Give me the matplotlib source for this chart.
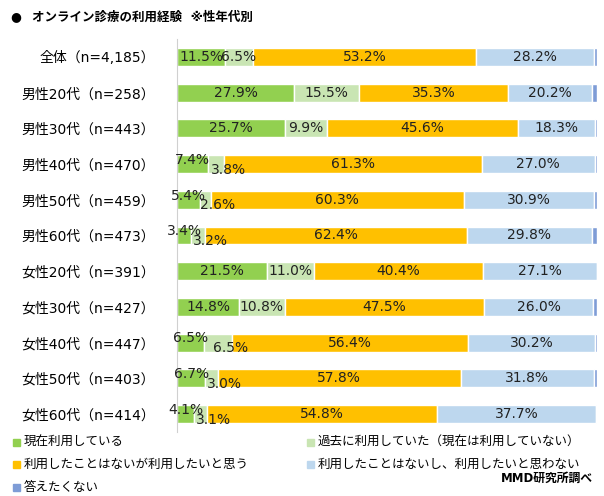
import matplotlib
matplotlib.use("Agg")
import matplotlib.pyplot as plt
import numpy as np

plt.rcParams['font.family'] = ['DejaVu Sans', 'Noto Sans CJK JP']

categories = ["全体（n=4,185）", "男性20代（n=258）", "男性30代（n=443）", "男性40代（n=470）",
              "男性50代（n=459）", "男性60代（n=473）", "女性20代（n=391）", "女性30代（n=427）",
              "女性40代（n=447）", "女性50代（n=403）", "女性60代（n=414）"]
series_names = ["現在利用している", "過去に利用していた（現在は利用していない）",
                "利用したことはないが利用したいと思う", "利用したことはないし、利用したいと思わない",
                "答えたくない"]
current = [11.5, 27.9, 25.7, 7.4, 5.4, 3.4, 21.5, 14.8, 6.5, 6.7, 4.1]
past = [6.5, 15.5, 9.9, 3.8, 2.6, 3.2, 11.0, 10.8, 6.5, 3.0, 3.1]
want = [53.2, 35.3, 45.6, 61.3, 60.3, 62.4, 40.4, 47.5, 56.4, 57.8, 54.8]
not_want = [28.2, 20.2, 18.3, 27.0, 30.9, 29.8, 27.1, 26.0, 30.2, 31.8, 37.7]
no_answer = [0.6, 1.1, 0.5, 0.5, 0.8, 1.2, 0.0, 0.9, 0.4, 0.7, 0.3]

colors = ["#92D050", "#C9E5B3", "#FFC000", "#BDD7EE", "#7E9CD6"]
data = [current, past, want, not_want, no_answer]

fig = plt.figure(figsize=(6.04, 4.96), dpi=100)
ax = fig.add_axes([177/604, 1 - 431.85/496, 420/604, (431.85 - 39.15)/496])

y = np.arange(len(categories))
left = np.zeros(len(categories))
for k, (vals, col) in enumerate(zip(data, colors)):
    vals = np.array(vals)
    ax.barh(y, vals, left=left, height=0.5, color=col, edgecolor="white", linewidth=1.0,
            label=series_names[k])
    if k < 4:
        for i in range(len(categories)):
            v = vals[i]
            cx = left[i] + v / 2
            small = current[i] < 8
            dx, dy = 0, 0
            if small and k == 0:
                dy = 3
            elif small and k == 1:
                dx, dy = 9, -4
            ax.annotate(f"{v:.1f}%", (cx, y[i]), xytext=(dx, dy), textcoords="offset points",
                        ha="center", va="center", fontsize=10, color="#222222")
    left += vals

ax.set_xlim(0, 100)
ax.set_ylim(len(categories) - 0.5, -0.5)
ax.set_yticks(y)
ax.set_yticklabels(categories, fontsize=10)
ax.tick_params(axis="y", length=0, pad=16)
ax.set_xticks([])
for s in ["top", "right", "bottom"]:
    ax.spines[s].set_visible(False)
ax.spines["left"].set_color("#D0D0D0")

fig.text(10/604, 1 - 17/496, "●", fontsize=9, fontweight="bold", va="center", ha="left")
fig.text(32/604, 1 - 17/496, "オンライン診療の利用経験  ※性年代別", fontsize=9,
         fontweight="bold", va="center", ha="left")

leg_pos = [(13, 442), (307, 442), (13, 464), (307, 464), (13, 487)]
for (px, py), name, col in zip(leg_pos, series_names, colors):
    fig.patches.append(plt.Rectangle((px/604, 1 - (py + 3.5)/496), 7/604, 7/496,
                                     transform=fig.transFigure, color=col))
    fig.text((px + 11)/604, 1 - py/496, name, fontsize=9, va="center", ha="left")

fig.text(593/604, 1 - 478/496, "MMD研究所調べ", fontsize=8.5, fontweight="bold",
         va="center", ha="right")

fig.savefig("out.png", dpi=100)
